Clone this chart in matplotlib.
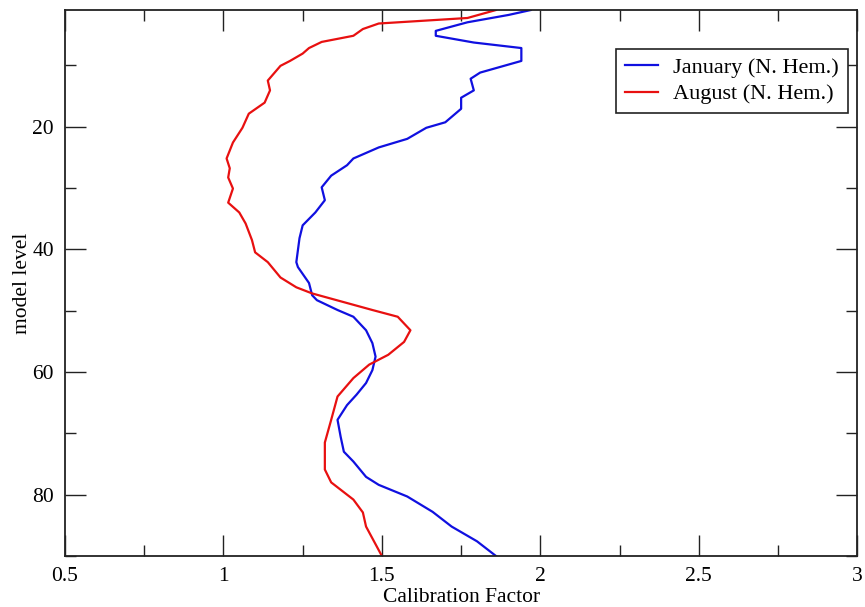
import matplotlib
matplotlib.use('Agg')
import matplotlib.pyplot as plt
from matplotlib.ticker import MultipleLocator

plt.rcParams['font.family'] = ['Liberation Serif', 'DejaVu Serif']

# calibration factor profiles by model level
jan_level = [1, 1.8, 3, 4.4, 5.2, 6.3, 7.2, 9.3, 11.2, 12.2, 14.1, 15.3, 17.1, 19.3, 20.2,
             22, 23.4, 25.2, 26.3, 28, 29.9, 32, 34, 36.1, 38.2, 42.1, 42.9, 45.5, 47.5,
             48.3, 49.9, 51, 53.2, 55.3, 57.5, 59.7, 61.8, 63.7, 65.4, 67.8, 70.6, 73,
             74.6, 77.1, 78.4, 80.3, 82.8, 85.2, 87.6, 90]
jan_factor = [1.97, 1.90, 1.77, 1.67, 1.67, 1.79, 1.94, 1.94, 1.81, 1.78, 1.79, 1.75, 1.75,
              1.70, 1.64, 1.58, 1.49, 1.41, 1.39, 1.34, 1.31, 1.32, 1.29, 1.25, 1.24, 1.23,
              1.235, 1.27, 1.28, 1.295, 1.36, 1.41, 1.45, 1.47, 1.48, 1.47, 1.45, 1.42, 1.39,
              1.36, 1.37, 1.38, 1.41, 1.45, 1.49, 1.58, 1.66, 1.72, 1.80, 1.86]

aug_level = [1, 2.3, 3.2, 4.1, 5.2, 6.2, 7.2, 8.1, 9.3, 10.1, 12.5, 14.1, 16.1, 17.9, 20.2,
             22.6, 25.2, 26.8, 28.3, 30.1, 32.4, 34, 35.8, 38.5, 40.5, 42.1, 44.6, 46.2,
             47.2, 49.9, 51, 53.2, 55.1, 57.2, 58.8, 61, 64, 67.8, 71.5, 75.9, 78, 80.8,
             82.9, 85.2, 90]
aug_factor = [1.86, 1.77, 1.49, 1.44, 1.41, 1.31, 1.27, 1.25, 1.21, 1.18, 1.14, 1.147, 1.13,
              1.08, 1.06, 1.03, 1.01, 1.02, 1.015, 1.03, 1.015, 1.05, 1.07, 1.09, 1.10, 1.14,
              1.18, 1.23, 1.28, 1.47, 1.55, 1.59, 1.57, 1.52, 1.46, 1.41, 1.36, 1.34, 1.32,
              1.32, 1.34, 1.41, 1.44, 1.45, 1.50]

fig = plt.figure(figsize=(8.65, 6.07), dpi=100)
ax = fig.add_axes([0.0751, 0.084, 0.916, 0.8995])

ax.plot(jan_factor, jan_level, color='#1010e0', lw=1.6, label='January (N. Hem.)')
ax.plot(aug_factor, aug_level, color='#e81010', lw=1.6, label='August (N. Hem.)')

ax.set_xlim(0.5, 3)
ax.set_ylim(90, 1)
ax.xaxis.set_major_locator(MultipleLocator(0.5))
ax.xaxis.set_minor_locator(MultipleLocator(0.25))
ax.yaxis.set_major_locator(MultipleLocator(20))
ax.yaxis.set_minor_locator(MultipleLocator(10))
ax.xaxis.set_major_formatter(plt.FuncFormatter(lambda v, p: '%g' % v))

ax.tick_params(which='both', direction='in', top=True, right=True, labelsize=15.5, width=1, color='#222222')
ax.tick_params(which='major', length=15, pad=8)
ax.tick_params(which='minor', length=8)
for s in ax.spines.values():
    s.set_linewidth(1.3)
    s.set_color('#222222')

ax.set_xlabel('Calibration Factor', fontsize=15.5, labelpad=1)
ax.set_ylabel('model level', fontsize=15.5, labelpad=0)

leg = ax.legend(loc='upper right', bbox_to_anchor=(0.988, 0.929), borderaxespad=0,
                fontsize=16, frameon=True, fancybox=False, framealpha=1, edgecolor='#222222',
                handlelength=1.45, borderpad=0.4, labelspacing=0.25, handletextpad=0.7)
leg.get_frame().set_linewidth(1.2)

fig.savefig('out.png', dpi=100)
